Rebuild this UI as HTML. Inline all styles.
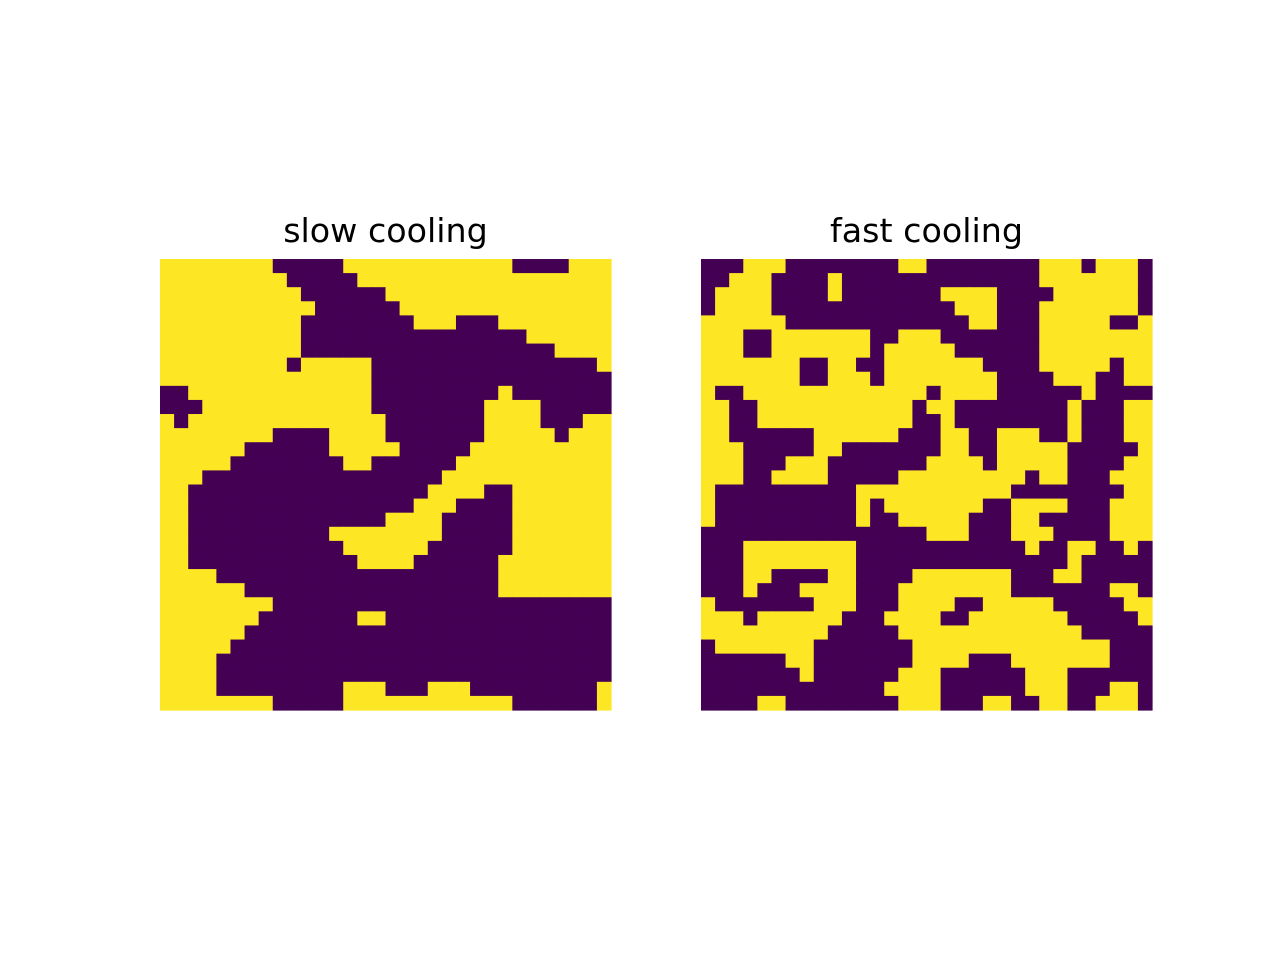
<!DOCTYPE html>
<html><head><meta charset="utf-8"><style>
html,body{margin:0;padding:0;background:#fff;width:1280px;height:960px;overflow:hidden}
svg{display:block}
text{font-family:"DejaVu Sans","Liberation Sans",sans-serif;font-size:33.3px;fill:#000}
</style></head><body>
<svg id="fig" width="1280" height="960" viewBox="0 0 1280 960">
<rect width="1280" height="960" fill="#fff"/>
<text x="385.5" y="242" text-anchor="middle">slow cooling</text>
<text x="926.5" y="242" text-anchor="middle">fast cooling</text>
<g id="slow"></g>
<g id="fast"></g>
</svg>
<script>
const slowRows = [
"11111111000001111111111110000111",
"11111111100000111111111111111111",
"11111111110000001111111111111111",
"11111111111000000111111111111111",
"11111111110000000011100011111111",
"11111111110000000000000000111111",
"11111111110000000000000000001111",
"11111111101111100000000000000001",
"11111111111111100000000000000000",
"00111111111111100000000010000000",
"00011111111111100000000111100000",
"10111111111111110000000111100011",
"11111111000011110000000111110111",
"11111100000011111000001111111111",
"11111000000001100000011111111111",
"11100000000000000000111111111111",
"11000000000000000001111001111111",
"11000000000000000011100001111111",
"11000000000000001111000001111111",
"11000000000011111111000001111111",
"11000000000001111110000001111111",
"11000000000000111100000011111111",
"11110000000000000000000011111111",
"11111100000000000000000011111111",
"11111111000000000000000000000000",
"11111110000000110000000000000000",
"11111100000000000000000000000000",
"11111000000000000000000000000000",
"11110000000000000000000000000000",
"11110000000000000000000000000000",
"11110000000001110001110000000001",
"11111111000001111111111110000001"
];
const fastRows = [
"00011100000000110000000011101110",
"00111000010000000000000011111110",
"01111000010000000111100001111110",
"01111000000000000011100011111110",
"11111100000000000001100011111001",
"11100111111100111000000011111111",
"11100111111101111100000011111111",
"11111110011001111111000011111011",
"11111110011101111111100001110011",
"10011111111111110111100000010000",
"11001111111111101100000000100011",
"11001111111111100100000000100011",
"11000000111111000110011100100011",
"11100000110000000110011111000001",
"11100011100000001111011111000011",
"11100111100000111111111011000111",
"10000000000111111111110000000011",
"10000000000101111111001111000111",
"10000000000100111110001100000111",
"00000000000000001110001110000111",
"00011111111000000000000100110010",
"00011111111000000000000000100000",
"00011000011000011111110001100000",
"00010001111000111111110000000110",
"10000000111000111100111110000011",
"11101111110001111001111111000001",
"11111111100000111111111111100000",
"01111111000000011111111111111000",
"00000011000000011110001111111000",
"00000001000000111000000111000000",
"00000000000001111000000111000110",
"00001100000000111000110011001110"
];
const colors = ["#440154", "#fde725"];
const SIZE = 451;
function draw(gid, rows, x0, y0) {
  const g = document.getElementById(gid);
  const n = rows.length, m = rows[0].length;
  const cw = SIZE / m, ch = SIZE / n;
  const sx = c => x0 + c * cw;
  const sy = r => y0 + r * ch;
  const NS = "http://www.w3.org/2000/svg";
  for (let r = 0; r < n; r++) {
    for (let c = 0; c < m; c++) {
      const v = +rows[r][c];
      const el = document.createElementNS(NS, "rect");
      
      
      el.setAttribute("x", sx(c).toFixed(2));
      el.setAttribute("y", sy(r).toFixed(2));
      el.setAttribute("width", (cw + 0.6).toFixed(2));
      el.setAttribute("height", (ch + 0.6).toFixed(2));
      el.setAttribute("fill", colors[v]);
      g.appendChild(el);
    }
  }
}
draw("slow", slowRows, 160, 259);
draw("fast", fastRows, 701, 259);
</script>
</body></html>
